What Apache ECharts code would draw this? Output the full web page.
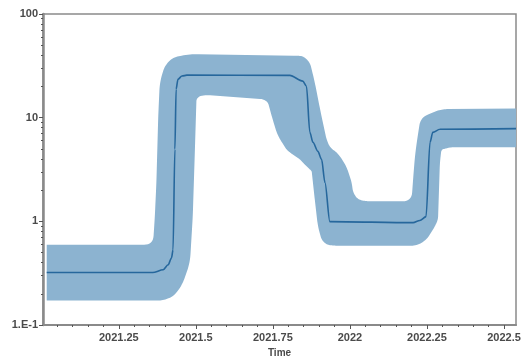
<!DOCTYPE html>
<html>
<head>
<meta charset="utf-8">
<script src="https://cdn.jsdelivr.net/npm/echarts@6/dist/echarts.min.js"></script>
<style>
  html, body { margin: 0; padding: 0; background: #ffffff; }
  #chart { width: 527px; height: 356px; }
</style>
</head>
<body>
<div id="chart"></div>
<script>
// Median estimate over time
const medianT = [2021.016, 2021.360, 2021.394, 2021.410, 2021.421, 2021.426, 2021.432, 2021.436, 2021.442, 2021.455, 2021.471, 2021.805, 2021.847, 2021.859, 2021.870, 2021.880, 2021.896, 2021.908, 2021.919, 2021.935, 2022.205, 2022.227, 2022.247, 2022.260, 2022.269, 2022.292, 2022.539];
const medianV = [0.321, 0.321, 0.341, 0.381, 0.443, 0.532, 4.95, 18.8, 23.5, 25.2, 25.7, 25.6, 22.5, 20.1, 7.22, 5.79, 4.73, 3.96, 2.37, 0.993, 0.971, 1.02, 1.11, 5.79, 7.22, 7.72, 7.84];

// Upper bound of the interval
const upperT = [2021.016, 2021.361, 2021.367, 2021.372, 2021.378, 2021.383, 2021.399, 2021.426, 2021.481, 2021.827, 2021.847, 2021.870, 2021.886, 2021.903, 2021.924, 2021.935, 2021.957, 2021.968, 2021.989, 2022.006, 2022.010, 2022.026, 2022.054, 2022.200, 2022.205, 2022.211, 2022.217, 2022.227, 2022.237, 2022.269, 2022.302, 2022.539];
const upperV = [0.595, 0.595, 1.118, 2.37, 10.4, 22.0, 31.7, 38.2, 41.1, 39.6, 39.3, 34.4, 22.0, 12.1, 6.18, 5.17, 4.62, 4.23, 3.38, 2.37, 1.90, 1.62, 1.56, 1.56, 2.53, 4.23, 5.78, 9.02, 10.1, 11.3, 12.1, 12.25];

// Lower bound of the interval
const lowerT = [2021.016, 2021.393, 2021.425, 2021.442, 2021.458, 2021.481, 2021.490, 2021.497, 2021.502, 2021.513, 2021.535, 2021.718, 2021.734, 2021.746, 2021.762, 2021.773, 2021.794, 2021.805, 2021.838, 2021.847, 2021.870, 2021.876, 2021.886, 2021.896, 2021.908, 2021.924, 2021.951, 2022.217, 2022.249, 2022.276, 2022.286, 2022.292, 2022.297, 2022.314, 2022.325, 2022.539];
const lowerV = [0.172, 0.172, 0.188, 0.213, 0.255, 0.398, 1.11, 4.94, 15.1, 16.2, 16.5, 15.1, 14.1, 10.4, 7.22, 6.18, 4.94, 4.62, 3.96, 3.70, 3.17, 3.05, 1.62, 0.895, 0.665, 0.595, 0.582, 0.582, 0.665, 0.895, 1.04, 3.70, 4.94, 5.06, 5.17, 5.17];

// Axis ticks
const xMajorTicks = [2021.25, 2021.5, 2021.75, 2022, 2022.25, 2022.5];
const xMinorTicks = [];
for (let k = 0; k <= 31; k++) {
  const v = +(2021.0 + k * 0.05).toFixed(2);
  if (v > 2021.004 && v < 2022.539 && xMajorTicks.indexOf(v) < 0) xMinorTicks.push(v);
}
const yMinorTicks = [];
[0.1, 1, 10].forEach(function (d) {
  for (let m = 2; m <= 9; m++) yMinorTicks.push(+(m * d).toPrecision(3));
});

const X_MIN = 2021.004, X_MAX = 2022.539;
const bandColor = '#8cb3d0';
const lineColor = '#26679c';
const axisColor = '#8a8a8a';
const textColor = '#4a4a4a';

// Replace each interior vertex of a pixel polyline by a short quadratic arc,
// so the outline turns softly instead of at sharp corners.
function roundCorners(pts, radius, steps) {
  const out = [pts[0]];
  for (let i = 1; i < pts.length - 1; i++) {
    const p0 = pts[i - 1], p1 = pts[i], p2 = pts[i + 1];
    const l1 = Math.hypot(p1[0] - p0[0], p1[1] - p0[1]);
    const l2 = Math.hypot(p2[0] - p1[0], p2[1] - p1[1]);
    const r = Math.min(radius, l1 / 2, l2 / 2);
    if (r < 0.01) { out.push(p1); continue; }
    const a = [p1[0] + (p0[0] - p1[0]) * r / l1, p1[1] + (p0[1] - p1[1]) * r / l1];
    const b = [p1[0] + (p2[0] - p1[0]) * r / l2, p1[1] + (p2[1] - p1[1]) * r / l2];
    for (let s = 0; s <= steps; s++) {
      const u = s / steps, w = 1 - u;
      out.push([w * w * a[0] + 2 * w * u * p1[0] + u * u * b[0],
                w * w * a[1] + 2 * w * u * p1[1] + u * u * b[1]]);
    }
  }
  out.push(pts[pts.length - 1]);
  return out;
}

const chart = echarts.init(document.getElementById('chart'), null, { renderer: 'canvas' });

const labelFont = { color: textColor, fontSize: 11, fontWeight: 'bold', fontFamily: 'Liberation Sans, Arial, sans-serif' };

chart.setOption({
  animation: false,
  backgroundColor: '#ffffff',
  grid: {
    left: 43, right: 11, top: 14, bottom: 31,
    outerBoundsMode: 'none', containLabel: false,
    show: true, borderColor: axisColor, borderWidth: 1.5, backgroundColor: 'transparent'
  },
  xAxis: [
    {
      type: 'value', min: X_MIN, max: X_MAX,
      name: 'Time', nameLocation: 'middle', nameGap: 20,
      nameTextStyle: { color: textColor, fontSize: 10, fontWeight: 'bold', fontFamily: 'Liberation Sans, Arial, sans-serif' },
      axisLine: { show: true, onZero: false, lineStyle: { color: axisColor, width: 2 } },
      axisTick: { show: true, customValues: xMajorTicks, length: 4, lineStyle: { color: '#555', width: 1 } },
      axisLabel: Object.assign({ customValues: xMajorTicks, margin: 7, formatter: function (v) { return String(+(+v).toFixed(2)); } }, labelFont),
      splitLine: { show: false }
    },
    {
      type: 'value', min: X_MIN, max: X_MAX, position: 'bottom',
      axisLine: { show: false },
      axisTick: { show: true, customValues: xMinorTicks, length: 2, lineStyle: { color: '#555', width: 1 } },
      axisLabel: { show: false },
      splitLine: { show: false }
    }
  ],
  yAxis: [
    {
      type: 'log', logBase: 10, min: 0.1, max: 100,
      axisLine: { show: true, lineStyle: { color: axisColor, width: 2.5 } },
      axisTick: { show: true, length: 4, lineStyle: { color: '#555', width: 1 } },
      axisLabel: Object.assign({ margin: 5, formatter: function (v) { return v < 1 ? '1.E-1' : String(Math.round(v)); } }, labelFont),
      splitLine: { show: false }
    },
    {
      type: 'log', logBase: 10, min: 0.1, max: 100, position: 'left',
      axisLine: { show: false },
      axisTick: { show: true, customValues: yMinorTicks, length: 2, lineStyle: { color: '#555', width: 1 } },
      axisLabel: { show: false },
      splitLine: { show: false }
    }
  ],
  series: [
    {
      // interval band: upper edge forward, lower edge back
      type: 'custom',
      coordinateSystem: 'cartesian2d',
      xAxisIndex: 0, yAxisIndex: 0,
      silent: true,
      data: [[upperT[0], upperV[0]]],
      renderItem: function (params, api) {
        const up = upperT.map(function (t, i) { return api.coord([t, upperV[i]]); });
        const lo = lowerT.map(function (t, i) { return api.coord([t, lowerV[i]]); }).reverse();
        const pts = roundCorners(up, 9, 8).concat(roundCorners(lo, 9, 8));
        return {
          type: 'polygon',
          shape: { points: pts },
          style: { fill: bandColor }
        };
      },
      z: 1
    },
    {
      type: 'line',
      xAxisIndex: 0, yAxisIndex: 0,
      data: medianT.map(function (t, i) { return [t, medianV[i]]; }),
      showSymbol: false,
      smooth: 0.3,
      smoothMonotone: 'x',
      lineStyle: { color: lineColor, width: 1.6 },
      z: 2
    }
  ]
});
</script>
</body>
</html>
